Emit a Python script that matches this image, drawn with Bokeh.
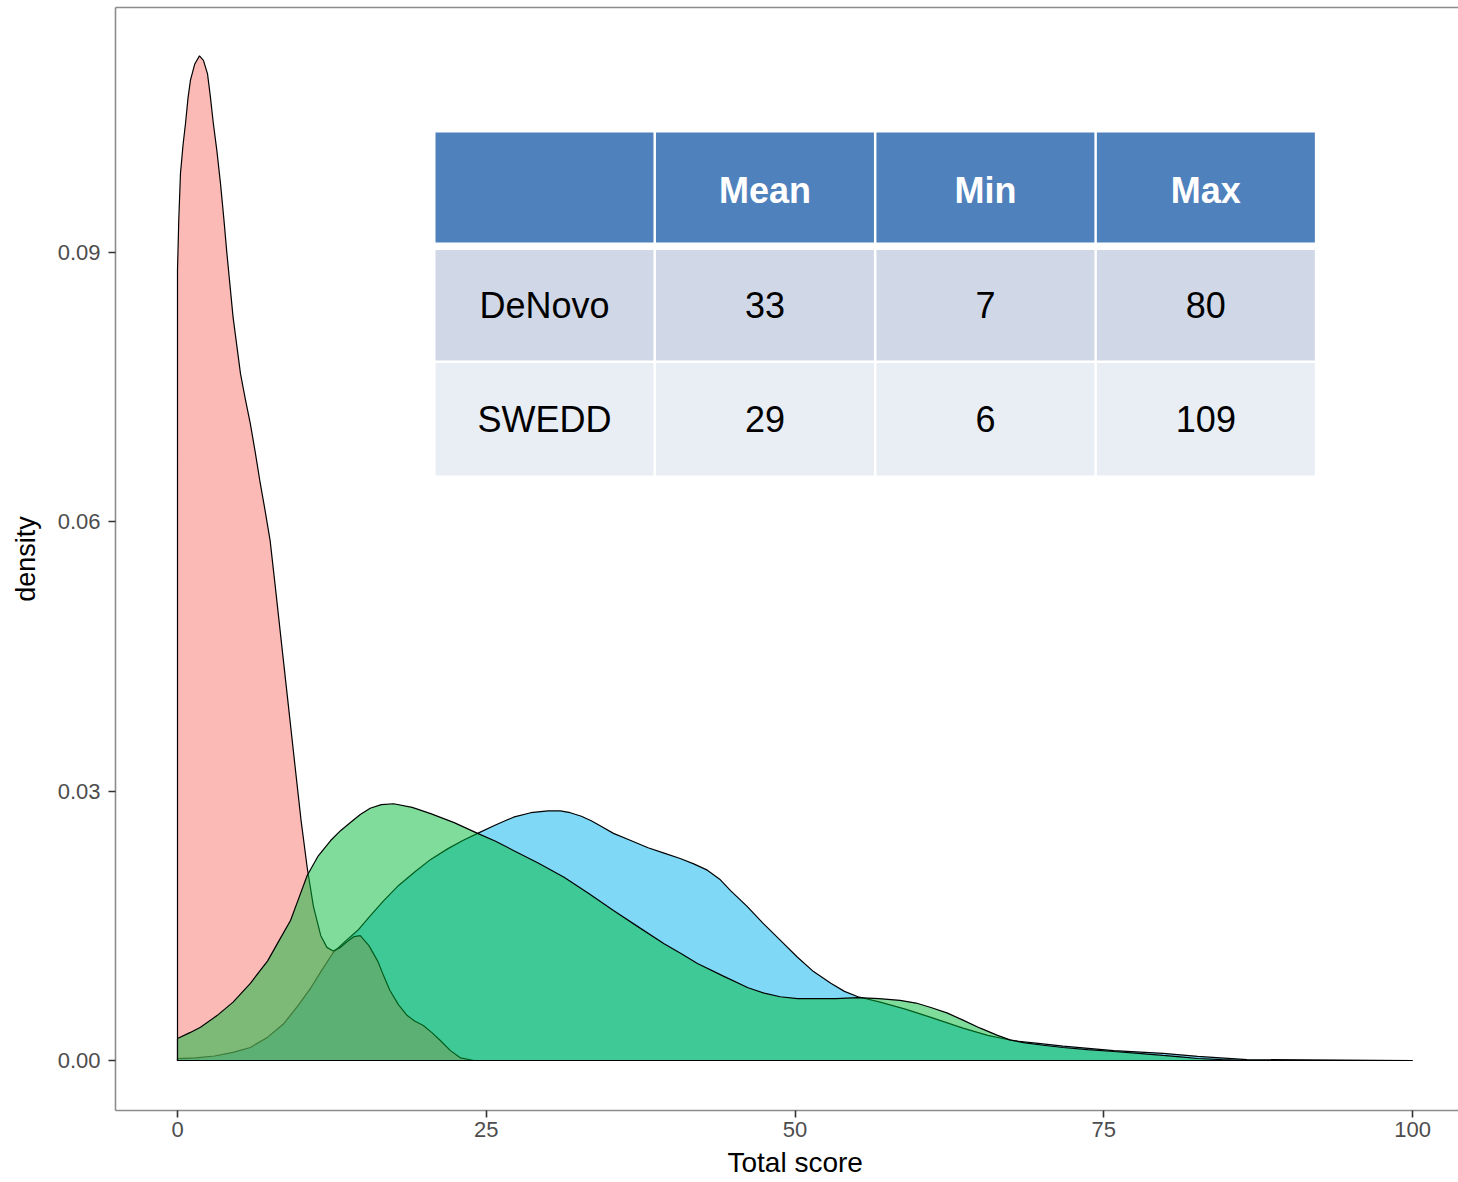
from bokeh.plotting import figure
from bokeh.models import Range1d, LinearAxis, FixedTicker, Title, NumeralTickFormatter, ColumnDataSource
from bokeh.core.properties import value
from bokeh.embed import file_html
from bokeh.resources import INLINE

# ---- density curves (Total score vs density) ----
red_x = [0, 0.1, 0.24, 0.45, 0.65, 0.85, 1.05, 1.4, 1.78, 2.1, 2.43, 2.65, 2.9, 3.2, 3.48,
         3.75, 4.0, 4.5, 5.1, 5.5, 5.9, 6.3, 6.7, 7.1, 7.5, 7.9, 8.3, 8.9, 9.5, 10.0, 10.5,
         11.0, 11.6, 12.1, 12.6, 13.2, 13.7, 14.3, 14.8, 15.5, 16.2, 16.7, 17.2, 17.9, 18.6,
         19.2, 19.9, 20.6, 21.3, 22.1, 22.9, 24.0]
red_y = [0.0880, 0.0935, 0.0988, 0.1020, 0.1044, 0.1072, 0.1092, 0.1110, 0.1119, 0.1114,
         0.1099, 0.1075, 0.1044, 0.1012, 0.0977, 0.0938, 0.0899, 0.0828, 0.0765, 0.0736,
         0.0709, 0.0677, 0.0643, 0.0612, 0.0579, 0.0530, 0.0480, 0.0405, 0.0330, 0.0268,
         0.0215, 0.0172, 0.0139, 0.0126, 0.0122, 0.0126, 0.0132, 0.0138, 0.0139, 0.0128,
         0.0111, 0.0094, 0.0078, 0.0062, 0.0050, 0.0044, 0.0039, 0.0031, 0.0022, 0.0011,
         0.0003, 0.0]

green_x = [0, 1.0, 1.86, 3.2, 4.5, 5.9, 7.3, 8.2, 9.15, 9.8, 10.5, 11.4, 12.4, 13.2, 14.0,
           14.8, 15.6, 16.5, 17.5, 19.0, 20.5, 22.4, 24.3, 25.8, 27.2, 29.2, 31.3, 33.3,
           35.3, 37.4, 39.4, 40.8, 42.1, 44.2, 46.2, 47.5, 48.8, 50.2, 51.5, 53.3, 55.1,
           56.8, 58.5, 59.8, 61.0, 62.3, 63.6, 65.0, 66.4, 67.4, 68.5, 70.1, 71.7, 73.7,
           75.8, 77.8, 79.8, 81.2, 82.6, 84.6, 86.6, 100]
green_y = [0.00245, 0.0031, 0.0037, 0.0050, 0.0065, 0.0086, 0.0111, 0.0133, 0.0156, 0.0180,
           0.0206, 0.0228, 0.0245, 0.0256, 0.0265, 0.0274, 0.0281, 0.0285, 0.0286, 0.0282,
           0.0275, 0.0265, 0.0253, 0.0244, 0.0234, 0.0220, 0.0204, 0.0186, 0.0167, 0.0148,
           0.0130, 0.0119, 0.0108, 0.0094, 0.0081, 0.0075, 0.0071, 0.0069, 0.0069, 0.0069,
           0.0070, 0.0069, 0.0067, 0.0064, 0.0059, 0.0053, 0.0045, 0.0036, 0.0028, 0.0023,
           0.0020, 0.0017, 0.00145, 0.0012, 0.0010, 0.0008, 0.00056, 0.0004, 0.00022,
           0.0001, 0.0, 0.0]

blue_x = [0, 1.5, 3.0, 4.5, 5.9, 7.3, 8.6, 9.7, 10.8, 11.7, 12.6, 13.6, 14.6, 15.6, 16.7,
          17.9, 19.2, 20.5, 21.9, 23.1, 24.3, 25.7, 27.2, 28.6, 30.0, 31.0, 31.8, 32.7,
          33.5, 34.4, 35.3, 36.7, 38.1, 39.4, 40.7, 41.8, 42.9, 43.9, 44.8, 46.1, 47.4,
          48.8, 50.2, 51.5, 52.9, 54.0, 55.1, 56.9, 59.0, 61.0, 63.6, 65.6, 67.7, 69.7,
          71.7, 75.8, 79.8, 82.6, 86.6, 100]
blue_y = [0.0002, 0.0003, 0.0005, 0.0009, 0.00145, 0.0026, 0.0041, 0.0060, 0.0081, 0.0101,
          0.0120, 0.0133, 0.0145, 0.0161, 0.0178, 0.0195, 0.0210, 0.0224, 0.0236, 0.0245,
          0.0253, 0.0262, 0.0271, 0.0276, 0.0278, 0.0278, 0.0276, 0.0272, 0.0267, 0.0260,
          0.0253, 0.0245, 0.0237, 0.0231, 0.0225, 0.0219, 0.0212, 0.0202, 0.0189, 0.0172,
          0.0153, 0.0134, 0.0115, 0.0099, 0.0086, 0.0077, 0.0071, 0.0065, 0.0057, 0.0048,
          0.0036, 0.0028, 0.0022, 0.0019, 0.0016, 0.0011, 0.0008, 0.00045, 0.0001, 0.0]

# ---- summary table ----
table_header = ["", "Mean", "Min", "Max"]
groups = ["DeNovo", "SWEDD"]
mean_scores = [33, 29]
min_scores = [7, 6]
max_scores = [80, 109]

x_ticks = [0, 25, 50, 75, 100]
y_ticks = [0.0, 0.03, 0.06, 0.09]

FONT = "Liberation Sans"

p = figure(width=1458, height=1182, output_backend="svg", toolbar_location=None,
           x_range=Range1d(-5.02, 103.72), y_range=Range1d(-0.00557, 0.11729),
           min_border_left=115, min_border_right=0, min_border_top=7, min_border_bottom=72)
p.outline_line_color = None
p.grid.visible = False
p.background_fill_color = "white"
p.border_fill_color = "white"


def closed(xs, ys):
    return [xs[0]] + list(xs) + [xs[-1]], [0.0] + list(ys) + [0.0]


# drawing order: blue underneath, then red, green on top
for xs, ys, col in [(blue_x, blue_y, "#00B2EC"),
                    (red_x, red_y, "#F8766D"),
                    (green_x, green_y, "#00BA38")]:
    px, py = closed(xs, ys)
    p.patch(px, py, fill_color=col, fill_alpha=0.5, line_color="black", line_width=1.2)

# axes
for ax in (p.xaxis[0], p.yaxis[0]):
    ax.axis_line_color = "#8C8C8C"
    ax.axis_line_width = 1.6
    ax.major_tick_line_color = "#333333"
    ax.major_tick_line_width = 1.6
    ax.major_tick_out = 7
    ax.major_tick_in = 0
    ax.minor_tick_line_color = None
    ax.major_label_text_font = FONT
    ax.major_label_text_font_size = "22px"
    ax.major_label_text_color = "#4D4D4D"

p.xaxis.ticker = FixedTicker(ticks=x_ticks)
p.xaxis.major_label_standoff = 4
p.yaxis.ticker = FixedTicker(ticks=y_ticks)
p.yaxis.formatter = NumeralTickFormatter(format="0.00")
p.yaxis.major_label_standoff = 8
p.yaxis.axis_label = "density"
p.yaxis.axis_label_text_font = FONT
p.yaxis.axis_label_text_font_size = "27px"
p.yaxis.axis_label_text_font_style = "normal"
p.yaxis.axis_label_text_color = "black"
p.yaxis.axis_label_standoff = 14

top_axis = LinearAxis(ticker=FixedTicker(ticks=[]), axis_line_color="#8C8C8C",
                      axis_line_width=1.6, major_tick_out=0, major_tick_in=0,
                      minor_tick_out=0, minor_tick_in=0, major_label_text_font_size="0px",
                      major_label_standoff=0)
p.add_layout(top_axis, "above")

# x axis title, centred on the full panel (which continues past the right edge)
p.add_layout(Title(text="Total score", align="left", offset=612, standoff=10,
                   text_font=FONT, text_font_size="28px", text_font_style="normal",
                   text_color="black"), "below")

# table geometry (data units)
TABLE_LEFT = 20.89
COL_W = 17.65
COL_GAP = 0.2
bands = [(0.09111, 0.10336), (0.07797, 0.09028), (0.06516, 0.07769)]
band_colors = ["#4F81BD", "#D0D8E8", "#E9EDF4"]

lefts = [TABLE_LEFT + i * (COL_W + COL_GAP) for i in range(len(table_header))]
rights = [l + COL_W for l in lefts]
centers = [(l + r) / 2 for l, r in zip(lefts, rights)]

cells = dict(left=[], right=[], bottom=[], top=[], color=[])
for (b, t), c in zip(bands, band_colors):
    for l, r in zip(lefts, rights):
        cells["left"].append(l)
        cells["right"].append(r)
        cells["bottom"].append(b)
        cells["top"].append(t)
        cells["color"].append(c)
p.quad(left="left", right="right", bottom="bottom", top="top", fill_color="color",
       line_color=None, source=ColumnDataSource(cells))

hb, ht = bands[0]
p.text(x=centers[1:], y=[(hb + ht) / 2] * 3, text=table_header[1:], y_offset=3,
       text_font=value(FONT), text_font_size=value("36px"), text_font_style="bold",
       text_color="white", text_align="center", text_baseline="middle")

for (b, t), g, mn, lo, hi in zip(bands[1:], groups, mean_scores, min_scores, max_scores):
    p.text(x=centers, y=[(b + t) / 2] * 4, text=[g, str(mn), str(lo), str(hi)],
           text_font=value(FONT), text_font_size=value("36px"),
           text_color="black", text_align="center", text_baseline="middle")

open("out.html", "w").write(file_html(p, INLINE))
